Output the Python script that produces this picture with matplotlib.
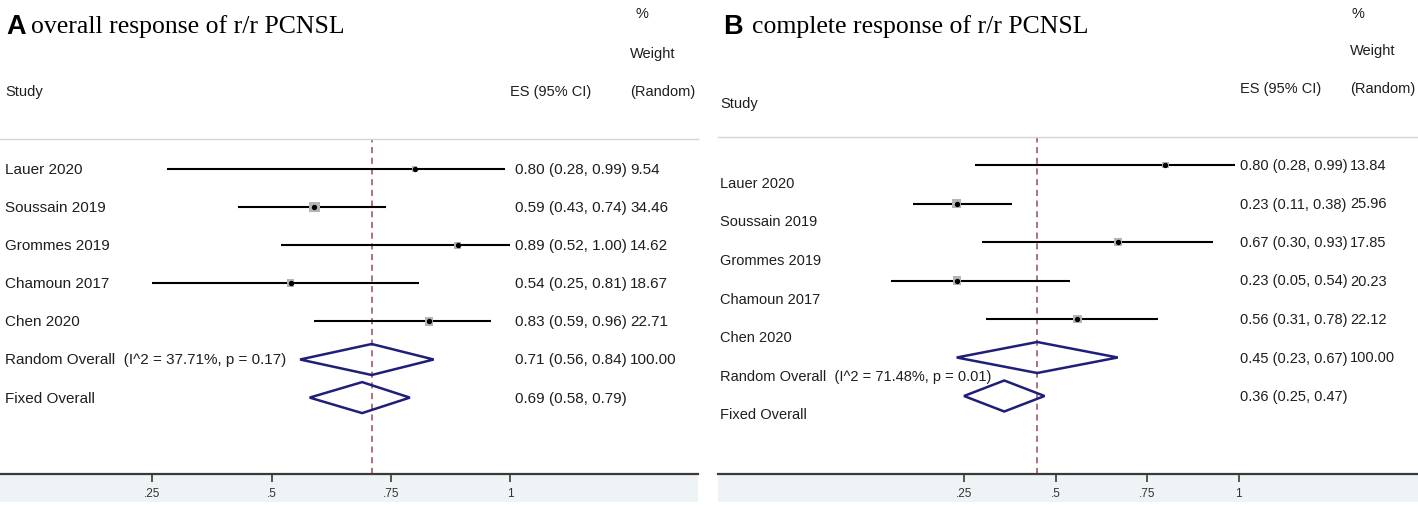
import matplotlib
matplotlib.use("Agg")
import matplotlib.pyplot as plt
import matplotlib.transforms as mtrans
from matplotlib.patches import Polygon, Rectangle
import numpy as np

# ---------------- data ----------------
studies = ["Lauer 2020", "Soussain 2019", "Grommes 2019", "Chamoun 2017", "Chen 2020"]

a_es = [0.80, 0.59, 0.89, 0.54, 0.83]
a_lo = [0.28, 0.43, 0.52, 0.25, 0.59]
a_hi = [0.99, 0.74, 1.00, 0.81, 0.96]
a_w = [9.54, 34.46, 14.62, 18.67, 22.71]
a_random = [0.71, 0.56, 0.84]
a_fixed = [0.69, 0.58, 0.79]
a_i2 = "37.71%"
a_p = "0.17"

b_es = [0.80, 0.23, 0.67, 0.23, 0.56]
b_lo = [0.28, 0.11, 0.30, 0.05, 0.31]
b_hi = [0.99, 0.38, 0.93, 0.54, 0.78]
b_w = [13.84, 25.96, 17.85, 20.23, 22.12]
b_random = [0.45, 0.23, 0.67]
b_fixed = [0.36, 0.25, 0.47]
b_i2 = "71.48%"
b_p = "0.01"

ticks = [0.25, 0.5, 0.75, 1.0]
tick_labels = [".25", ".5", ".75", "1"]

# ---------------- figure ----------------
W, H = 1418, 506
DPI = 100
fig = plt.figure(figsize=(W / DPI, H / DPI), dpi=DPI)
fig.patch.set_facecolor("white")

SANS = ["Liberation Sans", "DejaVu Sans"]
SERIF = ["Liberation Serif", "DejaVu Serif"]
TXT = "#1e1e1e"
NAVY = "#1f1f7a"
DASH = "#9a4a5c"


def fx(px):
    return px / W


def fy(py):
    return 1 - py / H


def make_panel(x0, x1, ytop, ybot, zero_px, unit_px, row0_px, row_step):
    # shaded band below axis (drawn under everything)
    fig.patches.append(Rectangle((fx(x0), fy(503)), fx(x1 - x0), (503 - ybot) / H,
                                 transform=fig.transFigure, facecolor="#eef3f6",
                                 edgecolor="none", zorder=-5))
    ax = fig.add_axes([fx(x0), fy(ybot), fx(x1 - x0), (ybot - ytop) / H])
    ax.set_xlim((x0 - zero_px) / unit_px, (x1 - zero_px) / unit_px)
    ax.set_ylim((ybot - row0_px) / row_step, (ytop - row0_px) / row_step)
    ax.set_facecolor("none")
    for s in ["left", "right"]:
        ax.spines[s].set_visible(False)
    ax.spines["top"].set_color("#d4d4d4")
    ax.spines["top"].set_linewidth(1.0)
    ax.spines["bottom"].set_color("#3a3a3a")
    ax.spines["bottom"].set_linewidth(1.6)
    ax.set_yticks([])
    ax.set_xticks(ticks)
    ax.set_xticklabels(tick_labels, fontsize=8.5, family=SANS, color="#333333")
    ax.tick_params(axis="x", direction="out", length=5.5, width=1.2,
                   color="#3a3a3a", pad=4)
    return ax


def draw_forest(ax, es, lo, hi, w, rnd, fix, row_step):
    n = len(es)
    rows = np.arange(n)
    ax.axvline(rnd[0], color=DASH, lw=1.1, ls=(0, (4, 3)), zorder=1)
    ax.hlines(rows, lo, hi, color="black", lw=1.5, zorder=2)
    sides_pt = [1.8 * np.sqrt(v) * 0.72 for v in w]
    ax.scatter(es, rows, marker="s", s=[s ** 2 for s in sides_pt],
               color="#b4b4b4", edgecolor="none", zorder=3)
    ax.scatter(es, rows, marker="o", s=8, color="black", zorder=4)
    h = 15.5 / row_step
    for r, (c, l, u) in zip([n, n + 1], [rnd, fix]):
        poly = Polygon([(l, r), (c, r - h), (u, r), (c, r + h)], closed=True,
                       fill=False, edgecolor=NAVY, lw=1.8, zorder=3)
        ax.add_patch(poly)


def row_text(ax, x_px, row, s, size, dy_px=0, **kw):
    tr = mtrans.blended_transform_factory(fig.transFigure, ax.transData)
    tr = tr + mtrans.ScaledTranslation(0, -dy_px / DPI, fig.dpi_scale_trans)
    ax.text(fx(x_px), row, s, transform=tr, fontsize=size, family=SANS,
            color=TXT, va="center", ha="left", **kw)


def fig_text(x_px, y_px, s, size, family=SANS, **kw):
    fig.text(fx(x_px), fy(y_px), s, fontsize=size, family=family,
             color=kw.pop("color", TXT), va="center", ha="left", **kw)


# ---------------- panel A ----------------
A_ROW0, A_STEP = 170, 38.1
axA = make_panel(0, 698, 140, 475, 33, 477, A_ROW0, A_STEP)
draw_forest(axA, a_es, a_lo, a_hi, a_w, a_random, a_fixed, A_STEP)

a_labels = studies + [f"Random Overall  (I^2 = {a_i2}, p = {a_p})", "Fixed Overall"]
a_esstr = [f"{e:.2f} ({l:.2f}, {u:.2f})" for e, l, u in zip(a_es, a_lo, a_hi)]
a_esstr += [f"{a_random[0]:.2f} ({a_random[1]:.2f}, {a_random[2]:.2f})",
            f"{a_fixed[0]:.2f} ({a_fixed[1]:.2f}, {a_fixed[2]:.2f})"]
a_wstr = [f"{v:.2f}" for v in a_w] + ["100.00", ""]
for i, lab in enumerate(a_labels):
    row_text(axA, 5, i, lab, 11)
    row_text(axA, 515, i, a_esstr[i], 11)
    row_text(axA, 630, i, a_wstr[i], 11)

fig_text(6, 27, "A", 19.5, weight="bold", color="black")
fig_text(31, 27, "overall response of r/r PCNSL", 18.5, family=SERIF, color="black")
fig_text(636, 14, "%", 10.5)
fig_text(630, 54, "Weight", 10.5)
fig_text(630, 92, "(Random)", 10.5)
fig_text(510, 92, "ES (95% CI)", 10.5)
fig_text(5, 92, "Study", 10.5)

# ---------------- panel B ----------------
B_ROW0, B_STEP = 166, 38.5
axB = make_panel(718, 1418, 138, 475, 872.5, 366, B_ROW0, B_STEP)
draw_forest(axB, b_es, b_lo, b_hi, b_w, b_random, b_fixed, B_STEP)

b_labels = studies + [f"Random Overall  (I^2 = {b_i2}, p = {b_p})", "Fixed Overall"]
b_esstr = [f"{e:.2f} ({l:.2f}, {u:.2f})" for e, l, u in zip(b_es, b_lo, b_hi)]
b_esstr += [f"{b_random[0]:.2f} ({b_random[1]:.2f}, {b_random[2]:.2f})",
            f"{b_fixed[0]:.2f} ({b_fixed[1]:.2f}, {b_fixed[2]:.2f})"]
b_wstr = [f"{v:.2f}" for v in b_w] + ["100.00", ""]
for i, lab in enumerate(b_labels):
    row_text(axB, 720, i, lab, 10.5, dy_px=18)
    row_text(axB, 1240, i, b_esstr[i], 10.5)
    row_text(axB, 1350, i, b_wstr[i], 10.5)

fig_text(723, 27, "B", 19.5, weight="bold", color="black")
fig_text(752, 27, "complete response of r/r PCNSL", 18.5, family=SERIF, color="black")
fig_text(1352, 14, "%", 10.5)
fig_text(1350, 51, "Weight", 10.5)
fig_text(1350, 89, "(Random)", 10.5)
fig_text(1240, 89, "ES (95% CI)", 10.5)
fig_text(720, 104, "Study", 10.5)

fig.savefig("out.png", dpi=DPI, facecolor="white")
